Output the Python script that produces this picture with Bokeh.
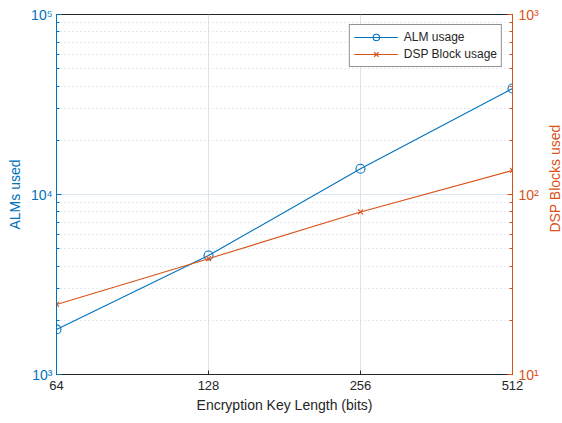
import math
from bokeh.plotting import figure
from bokeh.models import Range1d, LogScale, LogAxis, FixedTicker, Legend, Label
from bokeh.embed import file_html
from bokeh.resources import INLINE

key_lengths = [64, 128, 256, 512]
alm_usage = [1780, 4580, 13900, 38800]
dsp_usage = [24.5, 44, 80, 136]

x_ticks = [64, 128, 256, 512]
x_tick_labels = ["64", "128", "256", "512"]
left_ticks = [1e3, 1e4, 1e5]
left_tick_labels = ["10³", "10⁴", "10⁵"]
right_ticks = [10, 100, 1000]
right_tick_labels = ["10¹", "10²", "10³"]

BLUE = "#0072BD"
ORANGE = "#D95319"
DARK = "#262626"
FONT = "Liberation Sans"

p = figure(frame_width=456, frame_height=360,
           x_axis_type="log", y_axis_type="log",
           x_range=Range1d(64, 512), y_range=Range1d(1e3, 1e5),
           output_backend="svg", toolbar_location=None,
           min_border_left=56, min_border_right=50,
           min_border_top=14, min_border_bottom=49)
p.extra_y_ranges = {"dsp": Range1d(10, 1000)}
p.extra_y_scales = {"dsp": LogScale()}

p.outline_line_color = DARK
p.outline_line_width = 1
p.background_fill_color = "white"
p.border_fill_color = "white"

# x axis
xa = p.xaxis[0]
xa.ticker = FixedTicker(ticks=x_ticks, minor_ticks=[])
xa.major_label_overrides = {t: l for t, l in zip(x_ticks, x_tick_labels)}
xa.axis_label = "Encryption Key Length (bits)"
xa.axis_label_text_font = FONT
xa.axis_label_text_font_size = "14px"
xa.axis_label_text_font_style = "normal"
xa.axis_label_text_color = DARK
xa.axis_label_standoff = 4
xa.major_label_text_font = FONT
xa.major_label_text_font_size = "13px"
xa.major_label_text_color = DARK
xa.major_label_standoff = 6
xa.axis_line_color = DARK
xa.major_tick_line_color = DARK
xa.major_tick_in = 4
xa.major_tick_out = 0
xa.minor_tick_line_color = None

minor_left = [k * 10 ** e for e in (3, 4) for k in range(2, 10)]
minor_right = [k * 10 ** e for e in (1, 2) for k in range(2, 10)]

# left axis
ya = p.yaxis[0]
ya.ticker = FixedTicker(ticks=left_ticks, minor_ticks=minor_left)
ya.major_label_overrides = {t: l for t, l in zip(left_ticks, left_tick_labels)}
ya.axis_label = "ALMs used"
ya.axis_label_text_font = FONT
ya.axis_label_text_font_size = "14px"
ya.axis_label_text_font_style = "normal"
ya.axis_label_text_color = BLUE
ya.axis_label_standoff = 5
ya.major_label_text_font = FONT
ya.major_label_text_font_size = "14px"
ya.major_label_text_color = BLUE
ya.major_label_standoff = 4
ya.axis_line_color = BLUE
ya.major_tick_line_color = BLUE
ya.minor_tick_line_color = BLUE
ya.major_tick_in = 5
ya.major_tick_out = 0
ya.minor_tick_in = 3
ya.minor_tick_out = 0

# right axis
ra = LogAxis(y_range_name="dsp",
             ticker=FixedTicker(ticks=right_ticks, minor_ticks=minor_right))
ra.major_label_overrides = {t: l for t, l in zip(right_ticks, right_tick_labels)}
ra.major_label_text_font = FONT
ra.major_label_text_font_size = "14px"
ra.major_label_text_color = ORANGE
ra.major_label_standoff = 6
ra.axis_line_color = ORANGE
ra.major_tick_line_color = ORANGE
ra.minor_tick_line_color = ORANGE
ra.major_tick_in = 5
ra.major_tick_out = 0
ra.minor_tick_in = 3
ra.minor_tick_out = 0
p.add_layout(ra, "right")

# right axis title, reading bottom to top
right_title = Label(text="DSP Blocks used", x=13, y=196,
                    x_units="screen", y_units="screen",
                    angle=math.pi / 2, text_align="center",
                    text_baseline="middle", text_font=FONT,
                    text_font_size="14px", text_color=ORANGE)
p.add_layout(right_title, "right")

# grids
p.xgrid.ticker = FixedTicker(ticks=x_ticks)
p.xgrid.grid_line_color = "#e3e3e3"
p.xgrid.grid_line_width = 1
p.ygrid.grid_line_color = "#dbe6f0"
p.ygrid.minor_grid_line_color = "#c3d8ea"
p.ygrid.minor_grid_line_dash = "1 3"

# data
l1 = p.line(key_lengths, alm_usage, color=BLUE, line_width=1.1)
s1 = p.scatter(key_lengths, alm_usage, marker="circle", size=9,
               fill_color=None, line_color=BLUE, line_width=1.1)
l2 = p.line(key_lengths, dsp_usage, color=ORANGE, line_width=1.1,
            y_range_name="dsp")
s2 = p.scatter(key_lengths, dsp_usage, marker="x", size=7,
               line_color=ORANGE, line_width=1.1, y_range_name="dsp")

legend = Legend(items=[("ALM usage", [l1, s1]), ("DSP Block usage", [l2, s2])],
                location="top_right")
legend.margin = 10
legend.padding = 4
legend.spacing = 1
legend.glyph_width = 44
legend.glyph_height = 16
legend.label_height = 16
legend.label_standoff = 6
legend.label_text_font = FONT
legend.label_text_font_size = "12px"
legend.label_text_color = DARK
legend.border_line_color = DARK
legend.border_line_width = 1
legend.background_fill_alpha = 1
p.add_layout(legend)

open("out.html", "w").write(file_html(p, INLINE))
